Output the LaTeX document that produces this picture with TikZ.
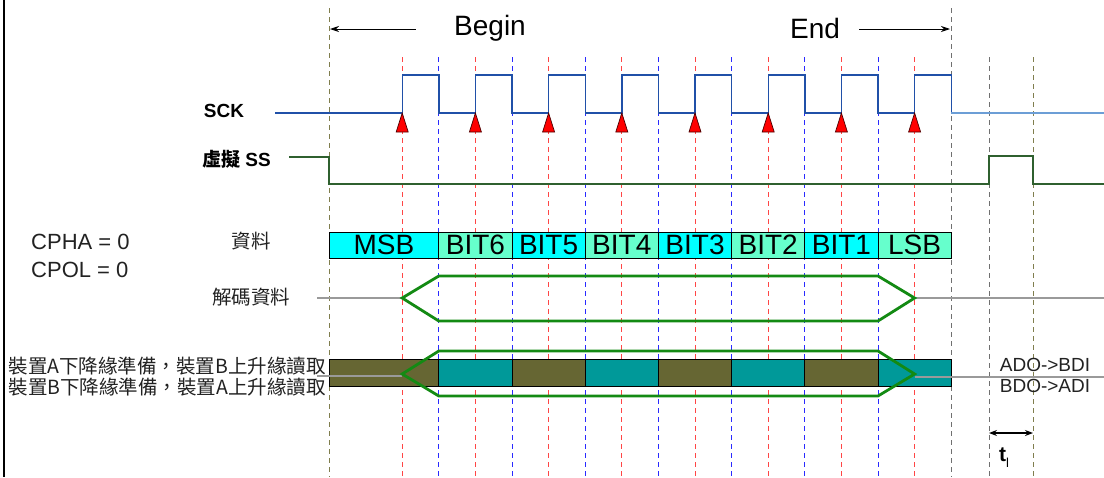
\documentclass[tikz,border=0pt]{standalone}
\usepackage{fontspec}
\setmainfont{Liberation Sans}
\newfontfamily\cjk{Noto Sans CJK TC}
\usetikzlibrary{arrows.meta}

\definecolor{sckblue}{HTML}{2050A8}
\definecolor{sckidle}{HTML}{6C9ED6}
\definecolor{ssgreen}{HTML}{2F602F}
\definecolor{busgreen}{HTML}{138A13}
\definecolor{wiregray}{HTML}{9A9A9A}
\definecolor{dashred}{HTML}{FF4545}
\definecolor{dashblue}{HTML}{2A2AFF}
\definecolor{guidegray}{HTML}{707070}
\definecolor{guideolive}{HTML}{807E4E}
\definecolor{cellcyan}{HTML}{00FFFF}
\definecolor{cellaqua}{HTML}{66FFCC}
\definecolor{cellolive}{HTML}{666633}
\definecolor{cellteal}{HTML}{009999}
\definecolor{labelgray}{HTML}{222222}

\def\xo{329}
\def\hp{36.6}

\begin{document}
\begin{tikzpicture}[
        x=1pt, y=-1pt,
        guide/.style={dash pattern=on 5pt off 4pt, line width=0.9pt},
        sck/.style={draw=sckblue, line width=1.4pt},
        ssline/.style={draw=ssgreen, line width=1.4pt},
        bus/.style={draw=busgreen, line width=2.8pt, line join=miter},
        wire/.style={draw=wiregray, line width=2.8pt},
        edgemark/.style={fill=red, draw=black!70!red, line width=0.7pt},
        marker/.style={draw=black, line width=0.9pt, -{Stealth[length=9pt,width=6pt]}},
        bitcell/.style={draw, line width=0.8pt, inner sep=0pt, minimum height=26pt,
          font=\fontsize{28}{28}\selectfont},
        xfercell/.style={draw, line width=0.8pt, inner sep=0pt, minimum height=27pt},
        sig/.style={font=\fontsize{19}{19}\selectfont\bfseries, inner sep=0pt},
        mode/.style={font=\fontsize{22}{22}\selectfont, text=labelgray, inner sep=0pt},
        cjklbl/.style={font=\cjk\fontsize{19.5}{19.5}\selectfont, text=labelgray, inner sep=0pt},
      ]
      \useasboundingbox (0,0) rectangle (1104,477);

      % frame edge on the left
      \draw[line width=1.2pt] (4,0) -- (4,477);

      % guide lines
      \draw[guide, guideolive] (\xo,8) -- (\xo,477);
      \draw[guide, guidegray] ({\xo+17*\hp},8) -- ({\xo+17*\hp},477);
      \draw[guide, guidegray] (989,57) -- (989,477);
      \draw[guide, guideolive] (1033,57) -- (1033,477);
      \foreach \k in {0,...,7}
        \draw[guide, dashred] ({\xo+(2+2*\k)*\hp},57) -- ({\xo+(2+2*\k)*\hp},477);
      \foreach \k in {0,...,6}
        \draw[guide, dashblue] ({\xo+(3+2*\k)*\hp},57) -- ({\xo+(3+2*\k)*\hp},477);

      % Begin / End
      \node[font=\fontsize{28}{28}\selectfont, inner sep=0pt] (begin) at (490,28) {Begin};
      \node[font=\fontsize{28}{28}\selectfont, inner sep=0pt] (end) at (815,28) {End};
      \coordinate (bl) at (330,29);
      \coordinate (er) at (950,29);
      \draw[marker] ([xshift=-38pt, yshift=-1pt]begin.west) -- (bl);
      \draw[marker] ([xshift=19pt, yshift=-1pt]end.east) -- (er);

      % SCK
      \node[sig] (sck) at (224,111) {SCK};
      \draw[sck] (275,113)
        foreach \k in {0,...,7} { -- ({\xo+(2+2*\k)*\hp},113) -- ++(0,-38) -- ++(\hp,0) -- ++(0,38) };
      \draw[draw=sckidle, line width=2.4pt] ({\xo+17*\hp},113) -- (1104,113);
      \foreach \k in {0,...,7}
        \draw[edgemark] ({\xo+(2+2*\k)*\hp},113) -- ++(-6,19) -- ++(12,0) -- cycle;

      % SS
      \node[sig, anchor=west] (ss) at (202,159) {{\cjk\bfseries 虛擬} SS};
      \draw[ssline] (289,157) -- (\xo,157) -- (\xo,184) -- (989,184) -- (989,156)
        -- (1033,156) -- (1033,184) -- (1104,184);

      % mode
      \node[mode, anchor=west] (cpha) at (31,242) {CPHA = 0};
      \node[mode, anchor=west] (cpol) at (31,270) {CPOL = 0};

      % data
      \node[cjklbl] (data) at (251,241) {資料};
      \foreach \lbl/\a/\b/\col in {MSB/0/3/cellcyan, BIT6/3/5/cellaqua, BIT5/5/7/cellcyan,
          BIT4/7/9/cellaqua, BIT3/9/11/cellcyan, BIT2/11/13/cellaqua, BIT1/13/15/cellcyan,
          LSB/15/17/cellaqua}
        \node[bitcell, fill=\col, minimum width={(\b-\a)*\hp pt}] (\lbl)
          at ({\xo+(\a+\b)/2*\hp},245) {\lbl};

      % decoded data
      \node[cjklbl] (dec) at (251,297) {解碼資料};
      \draw[wire] (317,298) -- ({\xo+2*\hp},298);
      \draw[wire] ({\xo+16*\hp},298) -- (1104,298);
      \draw[bus] ({\xo+2*\hp},298) -- ({\xo+3*\hp},276) -- ({\xo+15*\hp},276)
        -- ({\xo+16*\hp},298) -- ({\xo+15*\hp},321) -- ({\xo+3*\hp},321) -- cycle;

      % exchange between devices
      \node[cjklbl, anchor=east] (atob) at (326,366) {裝置A下降緣準備，裝置B上升緣讀取};
      \node[cjklbl, anchor=east] (btoa) at (326,387) {裝置B下降緣準備，裝置A上升緣讀取};
      \foreach \a/\b/\col [count=\i] in {0/3/cellolive, 3/5/cellteal, 5/7/cellolive,
          7/9/cellteal, 9/11/cellolive, 11/13/cellteal, 13/15/cellolive, 15/17/cellteal}
        \node[xfercell, fill=\col, minimum width={(\b-\a)*\hp pt}] (x\i)
          at ({\xo+(\a+\b)/2*\hp},372.5) {};
      \draw[wire] (317,376) -- ({\xo+2*\hp},376);
      \draw[wire] ({\xo+16*\hp},377) -- (1104,377);
      \draw[bus] ({\xo+2*\hp},374) -- ({\xo+3*\hp},351) -- ({\xo+15*\hp},351)
        -- ({\xo+16*\hp},374) -- ({\xo+15*\hp},396) -- ({\xo+3*\hp},396) -- cycle;
      \node[mode, font=\fontsize{19}{19}\selectfont] (adbd) at (1045,365) {ADO->BDI};
      \node[mode, font=\fontsize{19}{19}\selectfont] (bdad) at (1045,386) {BDO->ADI};

      % idle time
      \coordinate (tla) at (989,433);
      \coordinate (tlb) at (1033,433);
      \draw[draw=black, line width=1.2pt, {Stealth[length=8pt,width=6pt]}-{Stealth[length=8pt,width=6pt]}] (tla) -- (tlb);
      \node[inner sep=0pt, anchor=west] (tl) at (999,458)
        {\fontsize{21}{21}\selectfont\bfseries t\raisebox{-6pt}{\fontsize{13}{13}\selectfont\mdseries l}};

    \end{tikzpicture}
\end{document}
